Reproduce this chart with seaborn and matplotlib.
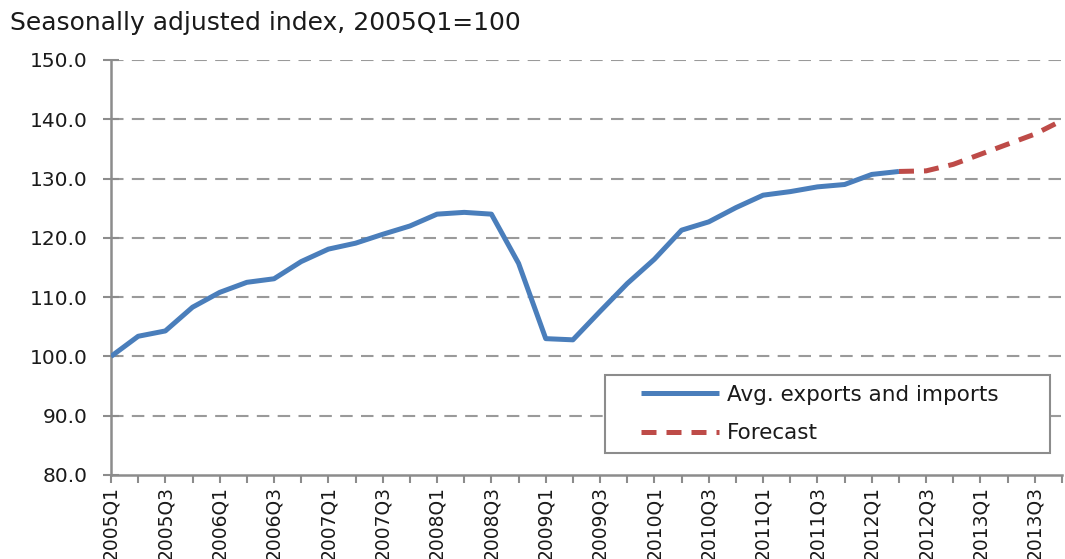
import numpy as np
import pandas as pd
import matplotlib
matplotlib.use("Agg")
import matplotlib.pyplot as plt
from matplotlib.patches import Rectangle
import seaborn as sns

# ---- data ----
years = list(range(2005, 2014))
quarters = [f"{y}Q{q}" for y in years for q in range(1, 5)]

actual_values = [100.0, 103.4, 104.3, 108.3, 110.8, 112.5, 113.1, 116.0, 118.1, 119.1,
                 120.6, 122.0, 124.0, 124.3, 124.0, 115.7, 103.0, 102.8, 107.6, 112.3,
                 116.4, 121.3, 122.7, 125.1, 127.2, 127.8, 128.6, 129.0, 130.7, 131.2]
forecast_values = [131.2, 131.3, 132.4, 134.1, 135.8, 137.5, 139.8]

actual_label = "Avg. exports and imports"
forecast_label = "Forecast"
title_text = "Seasonally adjusted index, 2005Q1=100"
y_ticks = [80, 90, 100, 110, 120, 130, 140, 150]

n_act = len(actual_values)
df = pd.concat([
    pd.DataFrame({"idx": np.arange(n_act), "value": actual_values, "series": actual_label}),
    pd.DataFrame({"idx": np.arange(n_act - 1, n_act - 1 + len(forecast_values)),
                  "value": forecast_values, "series": forecast_label}),
], ignore_index=True)

# ---- style ----
sns.set_theme(style="white")
plt.rcParams["font.family"] = ["DejaVu Sans"]

blue = "#4A7EBB"
red = "#BE4B48"
grey = "#8C8C8C"
txt = "#1a1a1a"

W, H = 1065, 559
ax_l, ax_r, ax_t, ax_b = 111, 1062, 60, 475

fig = plt.figure(figsize=(W / 100, H / 100), dpi=100)
ax = fig.add_axes([ax_l / W, 1 - ax_b / H, (ax_r - ax_l) / W, (ax_b - ax_t) / H])

sns.lineplot(data=df, x="idx", y="value", hue="series", style="series",
             palette={actual_label: blue, forecast_label: red},
             dashes={actual_label: "", forecast_label: (3, 2)},
             linewidth=3.6, ax=ax, legend=True, sort=False, zorder=3)

ax.set_xlim(0, len(quarters) - 1)
ax.set_ylim(80, 150)
ax.set_yticks(y_ticks)
ax.set_yticklabels([f"{v:.1f}" for v in y_ticks])
major = list(range(0, len(quarters), 2))
ax.set_xticks(major)
ax.set_xticklabels([quarters[i] for i in major], rotation=90, va="top")
ax.set_xticks(list(range(1, len(quarters), 2)), minor=True)
ax.set_xlabel("")
ax.set_ylabel("")

for v in y_ticks[1:]:
    ax.axhline(v, color="#9A9A9A", linewidth=1.5, linestyle=(0, (6, 4)), zorder=0)

for side in ["top", "right"]:
    ax.spines[side].set_visible(False)
for side in ["left", "bottom"]:
    ax.spines[side].set_color(grey)
    ax.spines[side].set_linewidth(1.8)

ax.tick_params(axis="y", which="major", direction="inout", length=12, width=1.5,
               color=grey, labelsize=14.5, labelcolor=txt, pad=11, left=True)
ax.tick_params(axis="x", which="both", direction="out", length=6, width=1.5,
               color=grey, labelsize=13.5, labelcolor=txt, pad=2, bottom=True)

for ln in ax.lines:
    ln.set_solid_capstyle("butt")

# legend box (drawn as a rectangle to match the wide horizontal padding)
box_l, box_r, box_t, box_b = 605, 1050, 375, 453
to_ax = lambda px, py: ((px - ax_l) / (ax_r - ax_l), (ax_b - py) / (ax_b - ax_t))
bx0, by0 = to_ax(box_l, box_b)
bx1, by1 = to_ax(box_r, box_t)
ax.add_patch(Rectangle((bx0, by0), bx1 - bx0, by1 - by0, transform=ax.transAxes,
                       facecolor="white", edgecolor=grey, linewidth=1.5, zorder=4))

anchor = to_ax(641, 414)
leg = ax.legend(loc="center left", bbox_to_anchor=anchor,
                frameon=False, fontsize=15.5, handlelength=3.6, handletextpad=0.4,
                borderpad=0, labelspacing=0.85, borderaxespad=0)
leg.set_zorder(5)
for h in leg.get_lines():
    h.set_linewidth(3.6)
for t in leg.get_texts():
    t.set_color(txt)
leg.set_title(None)

fig.text(10 / W, 1 - 23 / H, title_text, fontsize=18, color=txt, va="center", ha="left")

fig.savefig("out.png", dpi=100)
